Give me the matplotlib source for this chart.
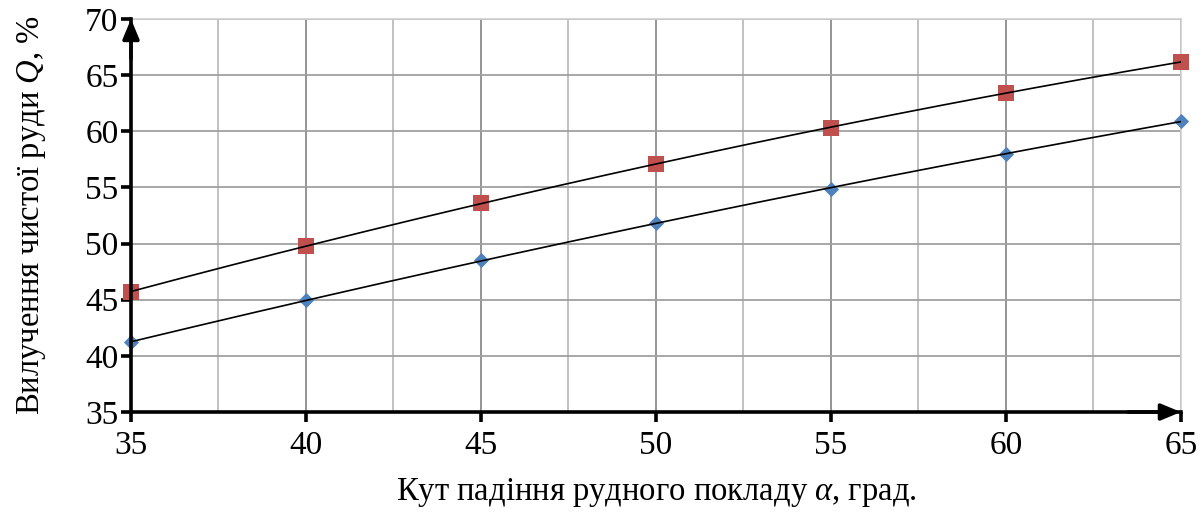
import matplotlib
matplotlib.use('Agg')

import numpy as np
import matplotlib.pyplot as plt
import matplotlib.ticker as mticker

# Dip angle of the ore body, degrees
angle = [35, 40, 45, 50, 55, 60, 65]
# Clean ore recovery, %
recovery_low = [41.2, 45.0, 48.5, 51.8, 54.9, 58.0, 60.9]
recovery_high = [45.7, 49.8, 53.6, 57.1, 60.3, 63.4, 66.2]

plt.rcParams['font.family'] = ['Liberation Serif', 'DejaVu Serif']
plt.rcParams['mathtext.fontset'] = 'custom'
plt.rcParams['mathtext.it'] = 'Liberation Serif:italic'
plt.rcParams['mathtext.rm'] = 'Liberation Serif'

fig = plt.figure(figsize=(12.04, 5.14), dpi=100)
ax = fig.add_axes([0.1088, 0.1984, 0.872, 0.7646])

x = np.array(angle, dtype=float)
xs = np.linspace(35, 65, 200)

ax.scatter(angle, recovery_low, marker='D', s=60, color='#4F81BD', zorder=3,
           linewidths=0, clip_on=False)
ax.scatter(angle, recovery_high, marker='s', s=125, color='#C0504D', zorder=3,
           linewidths=0, clip_on=False)

# quadratic trend lines through each series
for ys in (recovery_low, recovery_high):
    coef = np.polyfit(x, ys, 2)
    ax.plot(xs, np.polyval(coef, xs), color='black', lw=1.2, zorder=4)

ax.set_xlim(35, 65)
ax.set_ylim(35, 70)
ax.xaxis.set_major_locator(mticker.MultipleLocator(5))
ax.xaxis.set_minor_locator(mticker.MultipleLocator(2.5))
ax.yaxis.set_major_locator(mticker.MultipleLocator(5))

ax.grid(which='major', axis='x', color='#8c8c8c', lw=1.3)
ax.grid(which='minor', axis='x', color='#bdbdbd', lw=1.3)
ax.grid(which='major', axis='y', color='#a0a0a0', lw=1.3)
ax.set_axisbelow(True)

for s in ('top', 'right'):
    ax.spines[s].set_color('#d0d0d0')
    ax.spines[s].set_linewidth(1.2)
for s in ('left', 'bottom'):
    ax.spines[s].set_color('black')
    ax.spines[s].set_linewidth(2.6)
    ax.spines[s].set_zorder(5)

ax.tick_params(which='major', direction='out', length=7, width=2.6, color='black',
               labelsize=24)
ax.tick_params(which='minor', length=0)
ax.tick_params(axis='x', pad=6)
ax.tick_params(axis='y', pad=2)

# arrow heads on the axes
arrow = dict(arrowstyle='-|>,head_length=1.2,head_width=0.5', color='black',
             lw=2.6, shrinkA=0, shrinkB=0)
ax.annotate('', xy=(0, 1.0), xytext=(0, 0.9), xycoords='axes fraction',
            arrowprops=arrow, zorder=6, annotation_clip=False)
ax.annotate('', xy=(1.0, 0), xytext=(0.95, 0), xycoords='axes fraction',
            arrowprops=arrow, zorder=6, annotation_clip=False)

ax.set_xlabel('Кут падіння рудного покладу $\\alpha$, град.', fontsize=23.5, labelpad=11)
ax.set_ylabel('Вилучення чистої руди $Q$, %', fontsize=23.5, labelpad=27)

fig.savefig('out.png', dpi=100)
